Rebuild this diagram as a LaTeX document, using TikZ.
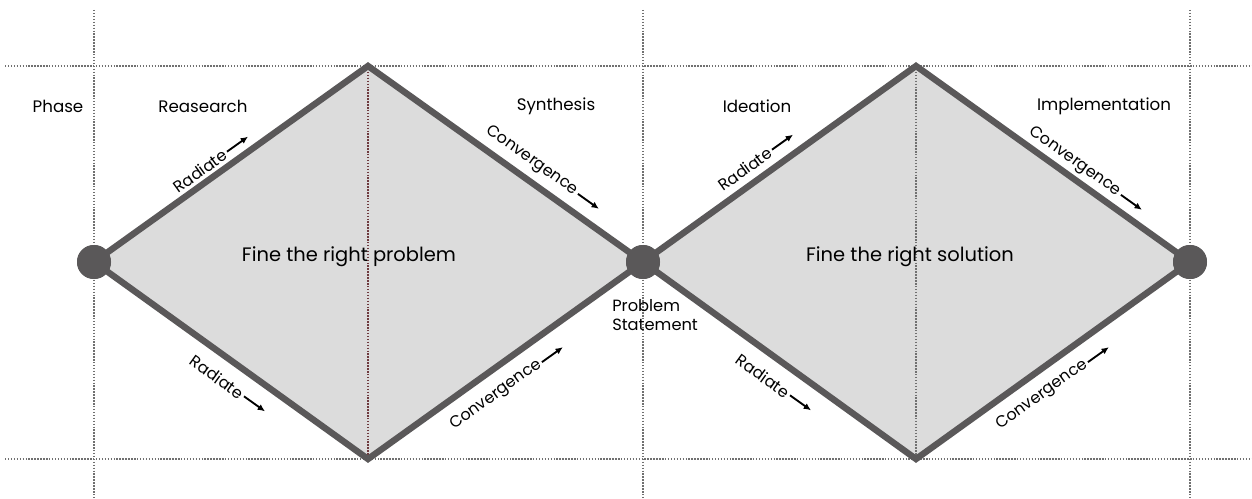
\documentclass[tikz,border=0pt]{standalone}
\usepackage{fontspec}
\setmainfont{Poppins}
\usetikzlibrary{arrows.meta}
\definecolor{edgegray}{HTML}{5A5859}
\definecolor{fillgray}{HTML}{DCDCDC}
\definecolor{dotgray}{HTML}{707070}
\definecolor{dotred}{HTML}{6E3A3E}
\tikzset{
  grid/.style={dotgray, line width=1.2pt, dash pattern=on 1.1pt off 1.1pt},
  gridred/.style={dotred, line width=1.2pt, dash pattern=on 1.1pt off 1.1pt},
  edgeline/.style={edgegray, line width=4.8pt, line join=miter},
  dot/.style={circle, fill=edgegray, minimum size=25.5pt, inner sep=0pt},
  phase/.style={font=\fontsize{12.5}{14}\selectfont, inner sep=0pt},
  lbl/.style={font=\fontsize{12}{14}\selectfont, inner sep=1.5pt},
  big/.style={font=\fontsize{14.6}{17}\selectfont, inner sep=0pt},
  arr/.style={line width=1.4pt, -{Latex[length=5.5pt,width=5pt]}},
}
\begin{document}
\begin{tikzpicture}[x=0.75pt,y=-0.75pt]
\useasboundingbox (0,0) rectangle (1252,499);
% diamonds fill
\fill[fillgray] (94,262) -- (368,66) -- (643,262) -- (368,459) -- cycle;
\fill[fillgray] (643,262) -- (916,66) -- (1190,262) -- (916,459) -- cycle;
% grid lines
\draw[grid] (5,66) -- (1252,66);
\draw[grid] (5,459) -- (1252,459);
\draw[grid] (94,10) -- (94,499);
\draw[grid] (643,10) -- (643,499);
\draw[grid] (1190,10) -- (1190,499);
\draw[gridred] (368,66) -- (368,459);
\draw[grid] (916,66) -- (916,459);
% vertices
\coordinate (t1) at (368,66);
\coordinate (b1) at (368,459);
\coordinate (t2) at (916,66);
\coordinate (b2) at (916,459);
\node[dot] (p1) at (94,262) {};
\node[dot] (p2) at (643,262) {};
\node[dot] (p3) at (1190,262) {};
\draw[edgeline] (p1.center) -- (t1) -- (p2.center) -- (b1) -- cycle;
\draw[edgeline] (p2.center) -- (t2) -- (p3.center) -- (b2) -- cycle;
\node[dot] at (p1) {};
\node[dot] at (p2) {};
\node[dot] at (p3) {};
% phase titles
\node[phase] (ph) at (58,106) {Phase};
\node[phase] (re) at (203,106) {Reasearch};
\node[phase] (sy) at (556,106) {Synthesis};
\node[phase] (id) at (757,106) {Ideation};
\node[phase] (im) at (1104,106) {Implementation};
% big labels
\node[big] (fp) at (349,257) {Fine the right problem};
\node[big] (fs) at (910,257) {Fine the right solution};
\node[font=\fontsize{12.2}{14.5}\selectfont, align=left, anchor=west, inner sep=0pt] (ps) at (612,315) {Problem\\Statement};
% edge labels
\node[lbl, rotate=35.6] (r1) at (200,171) {Radiate};
\draw[arr] (r1.east) -- ++(21,-15);
\node[lbl, rotate=-35.6] (c1) at (532,161) {Convergence};
\draw[arr] (c1.east) -- ++(21,15);
\node[lbl, rotate=-35.6] (r2) at (217,377) {Radiate};
\draw[arr] (r2.east) -- ++(21,15);
\node[lbl, rotate=35.6] (c2) at (496,395) {Convergence};
\draw[arr] (c2.east) -- ++(21,-15);
\node[lbl, rotate=35.6] (r3) at (745,169) {Radiate};
\draw[arr] (r3.east) -- ++(21,-15);
\node[lbl, rotate=-35.6] (c3) at (1075,162) {Convergence};
\draw[arr] (c3.east) -- ++(21,15);
\node[lbl, rotate=-35.6] (r4) at (763,376) {Radiate};
\draw[arr] (r4.east) -- ++(21,15);
\node[lbl, rotate=35.6] (c4) at (1042,395) {Convergence};
\draw[arr] (c4.east) -- ++(21,-15);
\end{tikzpicture}
\end{document}
